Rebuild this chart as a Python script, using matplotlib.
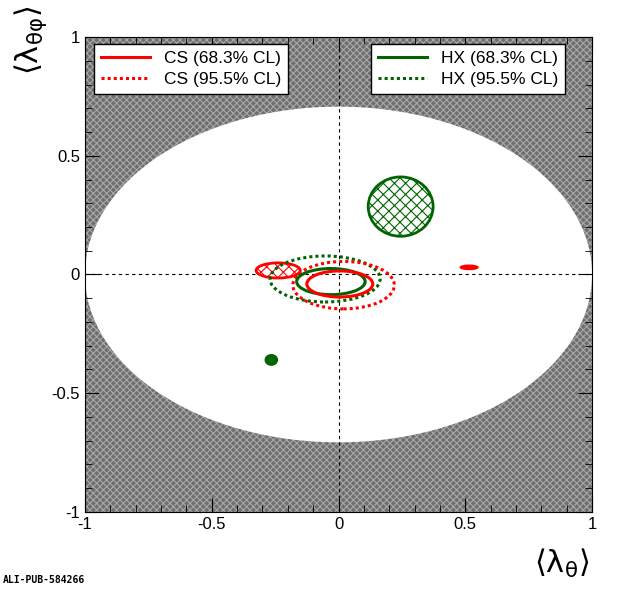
import numpy as np
import matplotlib.pyplot as plt
from matplotlib.patches import Ellipse, Rectangle

# contours: (x centre, y centre, half-width, half-height)
CS_68 = (0.005, -0.040, 0.130, 0.055)
CS_95 = (0.020, -0.045, 0.200, 0.100)
HX_68 = (-0.030, -0.030, 0.135, 0.055)
HX_95 = (-0.053, -0.019, 0.217, 0.097)
# hatched / filled regions
HX_HATCH = (0.245, 0.286, 0.128, 0.125)
CS_HATCH = (-0.238, 0.017, 0.087, 0.032)
CS_DOT = (0.515, 0.030, 0.035, 0.009)
HX_DOT = (-0.265, -0.360, 0.024, 0.022)

RED = "#ff0000"
GREEN = "#006400"

plt.rcParams["hatch.linewidth"] = 0.8
plt.rcParams["font.family"] = ["Liberation Sans", "DejaVu Sans"]

fig = plt.figure(figsize=(6.2, 5.89), dpi=100)
ax = fig.add_axes([0.137, 0.131, 0.818, 0.806])

# excluded region + allowed ellipse
ax.add_patch(Rectangle((-1, -1), 2, 2, facecolor="#6e6e6e", edgecolor="#a8a8a8",
                       hatch="xxxxx", lw=0, zorder=0))
ax.add_patch(Ellipse((0, 0), 2, 2 / np.sqrt(2), facecolor="white", edgecolor="none", zorder=1))

ax.axhline(0, color="black", ls=(0, (3, 3)), lw=0.8, zorder=2)
ax.axvline(0, color="black", ls=(0, (3, 3)), lw=0.8, zorder=2)


def ell(p, **kw):
    x, y, a, b = p
    ax.add_patch(Ellipse((x, y), 2 * a, 2 * b, zorder=3, **kw))


ell(HX_HATCH, facecolor="white", edgecolor=GREEN, hatch="xxx", lw=2)
ell(CS_HATCH, facecolor="white", edgecolor=RED, hatch="xxx", lw=2)
ell(CS_DOT, facecolor=RED, edgecolor=RED, lw=1)
ell(HX_DOT, facecolor=GREEN, edgecolor=GREEN, lw=1)
ell(HX_95, facecolor="none", edgecolor=GREEN, lw=2.2, ls=(0, (1, 1)))
ell(CS_95, facecolor="none", edgecolor=RED, lw=2.2, ls=(0, (1, 1)))
ell(HX_68, facecolor="none", edgecolor=GREEN, lw=2.2)
ell(CS_68, facecolor="none", edgecolor=RED, lw=2.2)

ax.set_xlim(-1, 1)
ax.set_ylim(-1, 1)
ax.set_xticks([-1, -0.5, 0, 0.5, 1])
ax.set_xticklabels(["-1", "-0.5", "0", "0.5", "1"])
ax.set_yticks([-1, -0.5, 0, 0.5, 1])
ax.set_yticklabels(["-1", "-0.5", "0", "0.5", "1"])
ax.minorticks_on()
ax.tick_params(which="both", direction="in", top=True, right=True, labelsize=12)
ax.tick_params(which="major", length=10)
ax.tick_params(which="minor", length=5)

fig.text(0.95, 0.015, r"$\langle\mathrm{\lambda}_{\mathrm{\theta}}\rangle$", fontsize=22,
         ha="right", va="bottom")
fig.text(0.02, 0.99, r"$\langle\mathrm{\lambda}_{\mathrm{\theta\varphi}}\rangle$", fontsize=22,
         rotation=90, ha="left", va="top")
fig.text(0.005, 0.01, "ALI-PUB-584266", fontsize=7, family="DejaVu Sans Mono",
         fontweight="bold")

h1 = [plt.Line2D([], [], color=RED, lw=2.2), plt.Line2D([], [], color=RED, lw=2.2, ls=(0, (1, 1)))]
h2 = [plt.Line2D([], [], color=GREEN, lw=2.2), plt.Line2D([], [], color=GREEN, lw=2.2, ls=(0, (1, 1)))]
kw = dict(fontsize=12.5, fancybox=False, edgecolor="black", framealpha=1, handlelength=2.8,
          borderaxespad=0.4, labelspacing=0.35)
l1 = ax.legend(h1, ["CS (68.3% CL)", "CS (95.5% CL)"], loc="upper left",
               bbox_to_anchor=(0.005, 1.0), **kw)
ax.add_artist(l1)
ax.legend(h2, ["HX (68.3% CL)", "HX (95.5% CL)"], loc="upper right",
          bbox_to_anchor=(0.96, 1.0), **kw)

fig.savefig("out.png", dpi=100)
